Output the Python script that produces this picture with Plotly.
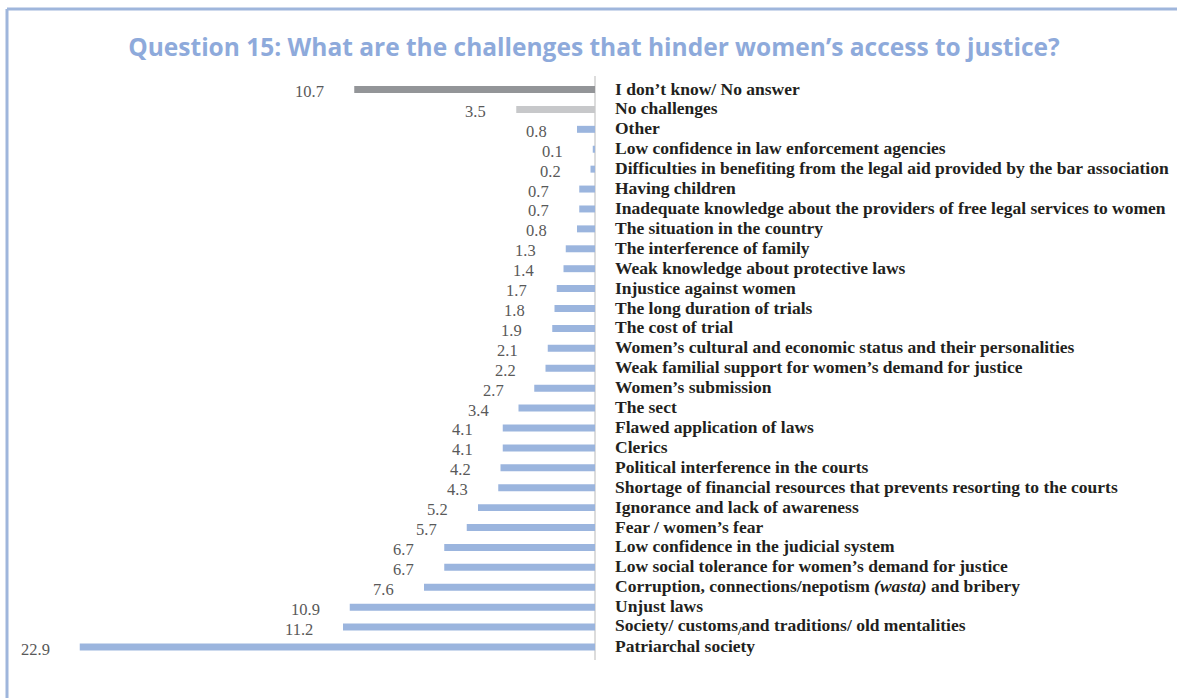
import plotly.graph_objects as go

# Survey responses, top to bottom
categories = [
    "I don’t know/ No answer",
    "No challenges",
    "Other",
    "Low confidence in law enforcement agencies",
    "Difficulties in benefiting from the legal aid provided by the bar association",
    "Having children",
    "Inadequate knowledge about the providers of free legal services to women",
    "The situation in the country",
    "The interference of family",
    "Weak knowledge about protective laws",
    "Injustice against women",
    "The long duration of trials",
    "The cost of trial",
    "Women’s cultural and economic status and their personalities",
    "Weak familial support for women’s demand for justice",
    "Women’s submission",
    "The sect",
    "Flawed application of laws",
    "Clerics",
    "Political interference in the courts",
    "Shortage of financial resources that prevents resorting to the courts",
    "Ignorance and lack of awareness",
    "Fear / women’s fear",
    "Low confidence in the judicial system",
    "Low social tolerance for women’s demand for justice",
    "Corruption, connections/nepotism <i>(wasta)</i> and bribery",
    "Unjust laws",
    "Society/ customs<sub>/</sub>and traditions/ old mentalities",
    "Patriarchal society",
]
values = [10.7, 3.5, 0.8, 0.1, 0.2, 0.7, 0.7, 0.8, 1.3, 1.4, 1.7, 1.8, 1.9, 2.1,
          2.2, 2.7, 3.4, 4.1, 4.1, 4.2, 4.3, 5.2, 5.7, 6.7, 6.7, 7.6, 10.9, 11.2, 22.9]

DARK_GREY = "#939598"
LIGHT_GREY = "#c7c8ca"
BLUE = "#9bb5de"
bar_colors = [DARK_GREY, LIGHT_GREY] + [BLUE] * (len(values) - 2)

W, H = 1177, 698
PLOT_L, PLOT_R, PLOT_T, PLOT_B = 0, 595, 76, 660
PX_PER_UNIT = 22.5
x_max = (PLOT_R - PLOT_L) / PX_PER_UNIT

fig = go.Figure(
    go.Bar(
        x=values,
        y=categories,
        orientation="h",
        marker=dict(color=bar_colors, line=dict(width=0)),
        hoverinfo="x+y",
    )
)

pw = PLOT_R - PLOT_L
ph = PLOT_B - PLOT_T


def px_x(px):
    return (px - PLOT_L) / pw


def px_y(py):
    return (PLOT_B - py) / ph


# Value labels sit a little to the left of each bar end
annotations = [
    dict(
        x=v, y=c, xref="x", yref="y", text=f"{v:.1f}", showarrow=False,
        xanchor="right", yanchor="middle", xshift=-28, yshift=-2,
        font=dict(family="Liberation Serif", size=16.5, color="#595959"),
    )
    for v, c in zip(values, categories)
]

# Category names to the right of the zero line
annotations += [
    dict(
        x=px_x(613), y=c, xref="paper", yref="y", text=f"<b>{c}</b>",
        showarrow=False, xanchor="left", yanchor="middle", yshift=1,
        font=dict(family="Liberation Serif", size=17.5, color="#231f20"),
    )
    for c in categories
]

frame = dict(color="#9fb6dc", width=3)
shapes = [
    dict(type="line", xref="paper", yref="paper",
         x0=px_x(7), x1=px_x(W + 5), y0=px_y(9), y1=px_y(9), line=frame),
    dict(type="line", xref="paper", yref="paper",
         x0=px_x(7), x1=px_x(7), y0=px_y(9), y1=px_y(H + 5), line=frame),
]

fig.update_layout(
    width=W,
    height=H,
    margin=dict(l=PLOT_L, r=W - PLOT_R, t=PLOT_T, b=H - PLOT_B, pad=0),
    paper_bgcolor="white",
    plot_bgcolor="white",
    bargap=0.65,
    showlegend=False,
    title=dict(
        text="<b>Question 15: What are the challenges that hinder women’s access to justice?</b>",
        x=594 / W, xanchor="center", y=1 - 47 / H, yanchor="middle",
        font=dict(family="Open Sans", size=24.5, color="#8eaadb"),
    ),
    xaxis=dict(
        range=[x_max, 0],
        showgrid=False, showticklabels=False, ticks="",
        zeroline=True, zerolinecolor="#dcdcdc", zerolinewidth=2,
        showline=False, fixedrange=True,
    ),
    yaxis=dict(
        type="category", autorange="reversed",
        showgrid=False, zeroline=False, showline=False, ticks="",
        showticklabels=False,
    ),
    annotations=annotations,
    shapes=shapes,
)

fig.write_html("out.html")
